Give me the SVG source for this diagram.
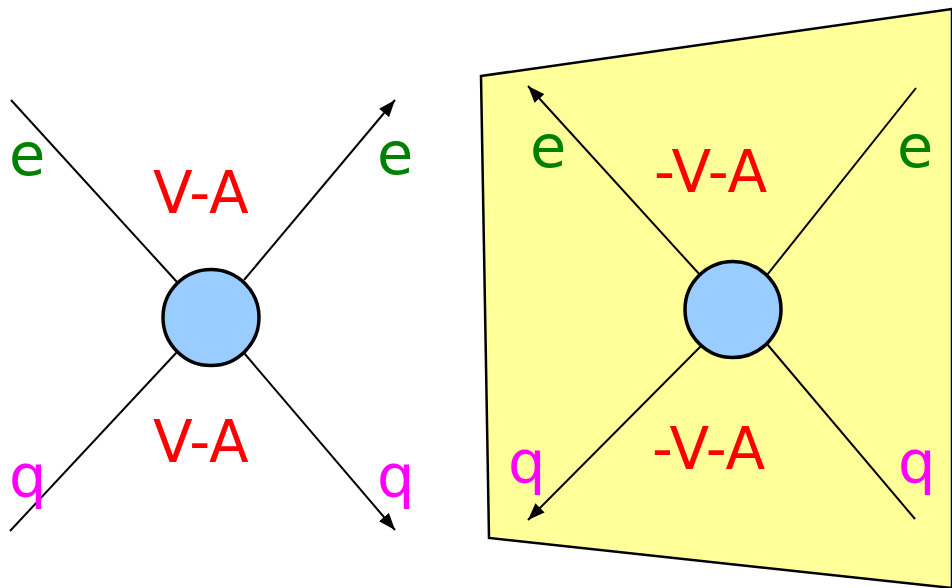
<svg xmlns="http://www.w3.org/2000/svg" width="952" height="588" viewBox="0 0 952 588">
<style>
.ln{stroke:#000;stroke-width:2;fill:none}
.ar{marker-end:url(#ah)}
.blob{fill:#99ccff;stroke:#000;stroke-width:3.5}
.t{font-family:"DejaVu Sans",Verdana,sans-serif;font-size:59px}
.e{fill:#008000}.q{fill:#ff00ff}.va{fill:#ff0000;font-size:58px}
</style>
<defs>
<marker id="ah" viewBox="0 0 17 13" refX="17" refY="6.5" markerWidth="17" markerHeight="13" markerUnits="userSpaceOnUse" orient="auto">
<path d="M0,0 L17,6.5 L0,13 Z" fill="#000"/>
</marker>
</defs>
<g id="panel">
<polygon points="481,76 952,9 952,588 489,538" fill="#ffff99" stroke="#000" stroke-width="2.5"/>
</g>
<g id="connectors">
<line class="ln" x1="11" y1="100" x2="177" y2="282"/>
<line class="ln" x1="10" y1="531" x2="177" y2="352"/>
<line class="ln ar" x1="244" y1="280" x2="395" y2="100"/>
<line class="ln ar" x1="244" y1="353" x2="395" y2="530"/>
<line class="ln ar" x1="701" y1="276" x2="528" y2="86"/>
<line class="ln" x1="767" y1="275" x2="916" y2="88"/>
<line class="ln ar" x1="701" y1="346" x2="528" y2="520"/>
<line class="ln" x1="767" y1="344" x2="915" y2="519"/>
</g>
<g id="vertex-left"><circle class="blob" cx="211" cy="317.5" r="48"/></g>
<g id="vertex-right"><circle class="blob" cx="733" cy="309.5" r="48"/></g>
<g id="labels" class="t">
<text class="t e" x="9" y="175">e</text>
<text class="t e" x="377" y="174">e</text>
<text class="t va" x="153" y="213">V-A</text>
<text class="t va" x="153" y="462">V-A</text>
<text class="t q" x="9" y="497">q</text>
<text class="t q" x="377" y="497">q</text>
<text class="t e" x="530" y="167">e</text>
<text class="t e" x="897" y="167">e</text>
<text class="t va" x="654" y="192">-V-A</text>
<text class="t va" x="652" y="469">-V-A</text>
<text class="t q" x="508" y="483">q</text>
<text class="t q" x="898" y="483">q</text>
</g>
</svg>
